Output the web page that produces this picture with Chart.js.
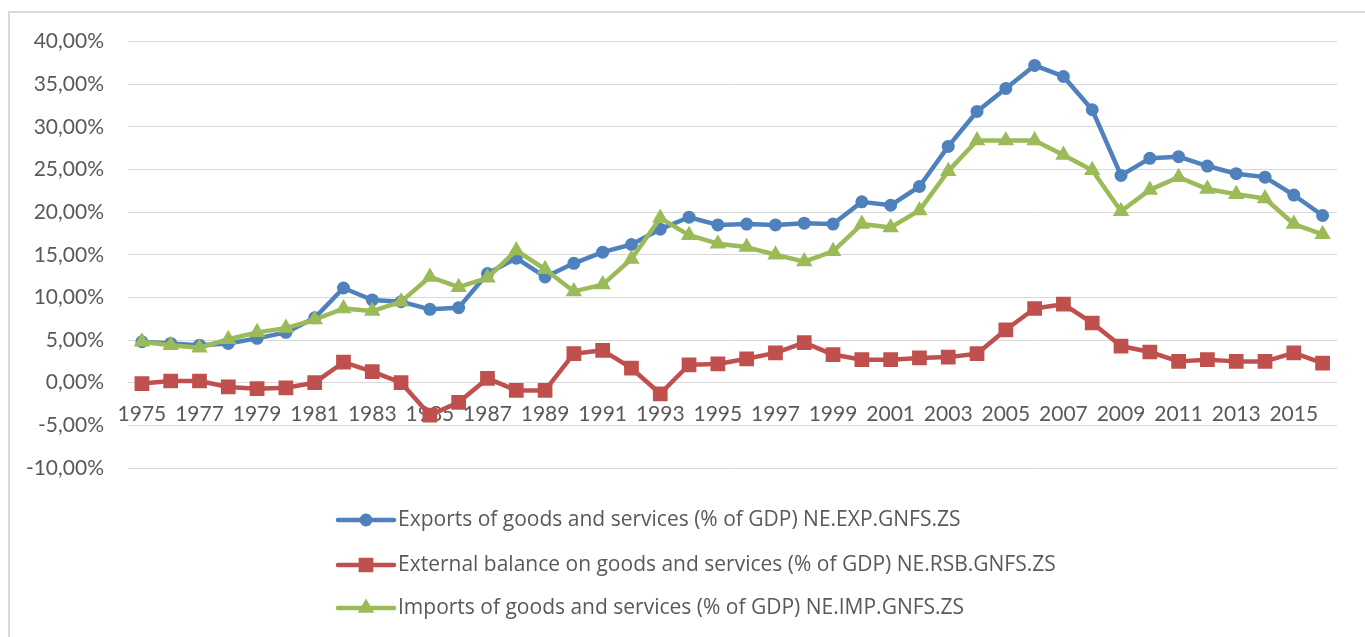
<!DOCTYPE html>
<html>
<head>
<meta charset="utf-8">
<title>Exports, imports and external balance (% of GDP)</title>
<script src="https://cdn.jsdelivr.net/npm/chart.js@4.4.1/dist/chart.umd.min.js"></script>
<style>
  html, body { margin: 0; padding: 0; background: #fff; }
  #wrap { position: relative; width: 1365px; height: 637px; }
</style>
</head>
<body>
<div id="wrap"><canvas id="canvas"></canvas></div>
<script>
// years on the category axis
const years = [
  "1975", "1976", "1977", "1978", "1979", "1980", "1981", "1982", "1983", "1984",
  "1985", "1986", "1987", "1988", "1989", "1990", "1991", "1992", "1993", "1994",
  "1995", "1996", "1997", "1998", "1999", "2000", "2001", "2002", "2003", "2004",
  "2005", "2006", "2007", "2008", "2009", "2010", "2011", "2012", "2013", "2014",
  "2015", "2016",
];

// % of GDP, one value per year
const exportsPct = [
  4.8, 4.6, 4.4, 4.6, 5.2, 5.9, 7.6, 11.1, 9.7, 9.5,
  8.6, 8.8, 12.8, 14.6, 12.4, 14.0, 15.3, 16.2, 18.0, 19.4,
  18.5, 18.6, 18.5, 18.7, 18.6, 21.2, 20.8, 23.0, 27.7, 31.8,
  34.5, 37.2, 35.9, 32.0, 24.3, 26.3, 26.5, 25.4, 24.5, 24.1,
  22.0, 19.6,
];
const balancePct = [
  -0.1, 0.2, 0.2, -0.5, -0.7, -0.6, 0.0, 2.4, 1.3, 0.0,
  -3.8, -2.3, 0.5, -0.9, -0.9, 3.4, 3.8, 1.7, -1.3, 2.1,
  2.2, 2.8, 3.5, 4.7, 3.3, 2.7, 2.7, 2.9, 3.0, 3.4,
  6.2, 8.7, 9.2, 7.0, 4.3, 3.6, 2.5, 2.7, 2.5, 2.5,
  3.5, 2.3,
];
const importsPct = [
  4.8, 4.4, 4.1, 5.1, 5.9, 6.4, 7.4, 8.7, 8.4, 9.5,
  12.4, 11.2, 12.3, 15.5, 13.3, 10.7, 11.5, 14.5, 19.3, 17.3,
  16.3, 15.9, 15.0, 14.2, 15.4, 18.6, 18.2, 20.2, 24.8, 28.4,
  28.4, 28.4, 26.7, 24.9, 20.1, 22.6, 24.1, 22.7, 22.1, 21.6,
  18.6, 17.4,
];

const seriesNames = [
  "Exports of goods and services (% of GDP) NE.EXP.GNFS.ZS",
  "External balance on goods and services (% of GDP) NE.RSB.GNFS.ZS",
  "Imports of goods and services (% of GDP) NE.IMP.GNFS.ZS",
];

// value axis range
const yMin = -10;
const yMax = 40;
const yStep = 5;

const textColor = "#595959";
const gridColor = "#d9d9d9";
const tickFont = "Lato, 'Open Sans', sans-serif";
const legendFont = "'Open Sans', Lato, sans-serif";

function makeSeries(label, data, color, style, radius, order) {
  return {
    label: label,
    data: data,
    borderColor: color,
    backgroundColor: color,
    borderWidth: 4.5,
    borderJoinStyle: "round",
    borderCapStyle: "round",
    pointStyle: style,
    pointRadius: radius,
    pointHoverRadius: radius,
    pointBorderWidth: 2,
    pointBackgroundColor: color,
    pointBorderColor: color,
    tension: 0,
    order: order,
  };
}

// light frame round the whole chart
const chartFrame = {
  id: "chartFrame",
  beforeDraw(chart) {
    const ctx = chart.ctx;
    ctx.save();
    ctx.strokeStyle = gridColor;
    ctx.lineWidth = 2;
    ctx.strokeRect(9, 12, chart.width + 20, chart.height + 20);
    ctx.restore();
  },
};

// stacked legend: line with marker, then the series name
const lineLegend = {
  id: "lineLegend",
  afterDraw(chart) {
    const ctx = chart.ctx;
    const left = 338;
    const rows = [520, 565, 608];
    ctx.save();
    ctx.font = "21px " + legendFont;
    ctx.textBaseline = "middle";
    ctx.textAlign = "left";
    chart.data.datasets.forEach((ds, i) => {
      const y = rows[i];
      ctx.strokeStyle = ds.borderColor;
      ctx.fillStyle = ds.borderColor;
      ctx.lineWidth = ds.borderWidth;
      ctx.lineCap = "round";
      ctx.beginPath();
      ctx.moveTo(left, y);
      ctx.lineTo(left + 56, y);
      ctx.stroke();
      ctx.lineWidth = ds.pointBorderWidth;
      Chart.helpers.drawPoint(
        ctx,
        { pointStyle: ds.pointStyle, radius: ds.pointRadius, borderWidth: ds.pointBorderWidth, rotation: 0 },
        left + 28,
        y
      );
      ctx.fillStyle = textColor;
      ctx.fillText(ds.label, left + 60, y);
    });
    ctx.restore();
  },
};

const ctx = document.getElementById("canvas").getContext("2d");

const chart = new Chart(ctx, {
  type: "line",
  data: {
    labels: years,
    datasets: [
      makeSeries(seriesNames[0], exportsPct, "#4f81bd", "circle", 5.5, 2),
      makeSeries(seriesNames[1], balancePct, "#c0504d", "rect", 9, 1),
      makeSeries(seriesNames[2], importsPct, "#9bbb59", "triangle", 7.5, 0),
    ],
  },
  options: {
    responsive: true,
    maintainAspectRatio: false,
    animation: false,
    layout: {
      padding: { left: 10, top: 41.5, right: 28, bottom: 169 },
    },
    plugins: {
      legend: { display: false },
      tooltip: { enabled: false },
    },
    scales: {
      x: {
        type: "category",
        position: { y: 0 },
        offset: true,
        grid: { display: false, drawTicks: false },
        border: { display: false },
        ticks: {
          autoSkip: false,
          maxRotation: 0,
          padding: 19,
          color: textColor,
          font: { family: tickFont, size: 21 },
          // every second year is labelled
          callback: function (value, index) {
            return index % 2 === 0 ? this.getLabelForValue(value) : "";
          },
        },
      },
      y: {
        min: yMin,
        max: yMax,
        grid: { color: gridColor, lineWidth: 1, drawTicks: false },
        border: { display: false },
        ticks: {
          stepSize: yStep,
          padding: 23.5,
          color: textColor,
          font: { family: tickFont, size: 21 },
          callback: (v) => v.toFixed(2).replace(".", ",") + "%",
        },
        afterFit: (scale) => {
          scale.width = 117.5;
        },
      },
    },
  },
  plugins: [chartFrame, lineLegend],
});
</script>
</body>
</html>
